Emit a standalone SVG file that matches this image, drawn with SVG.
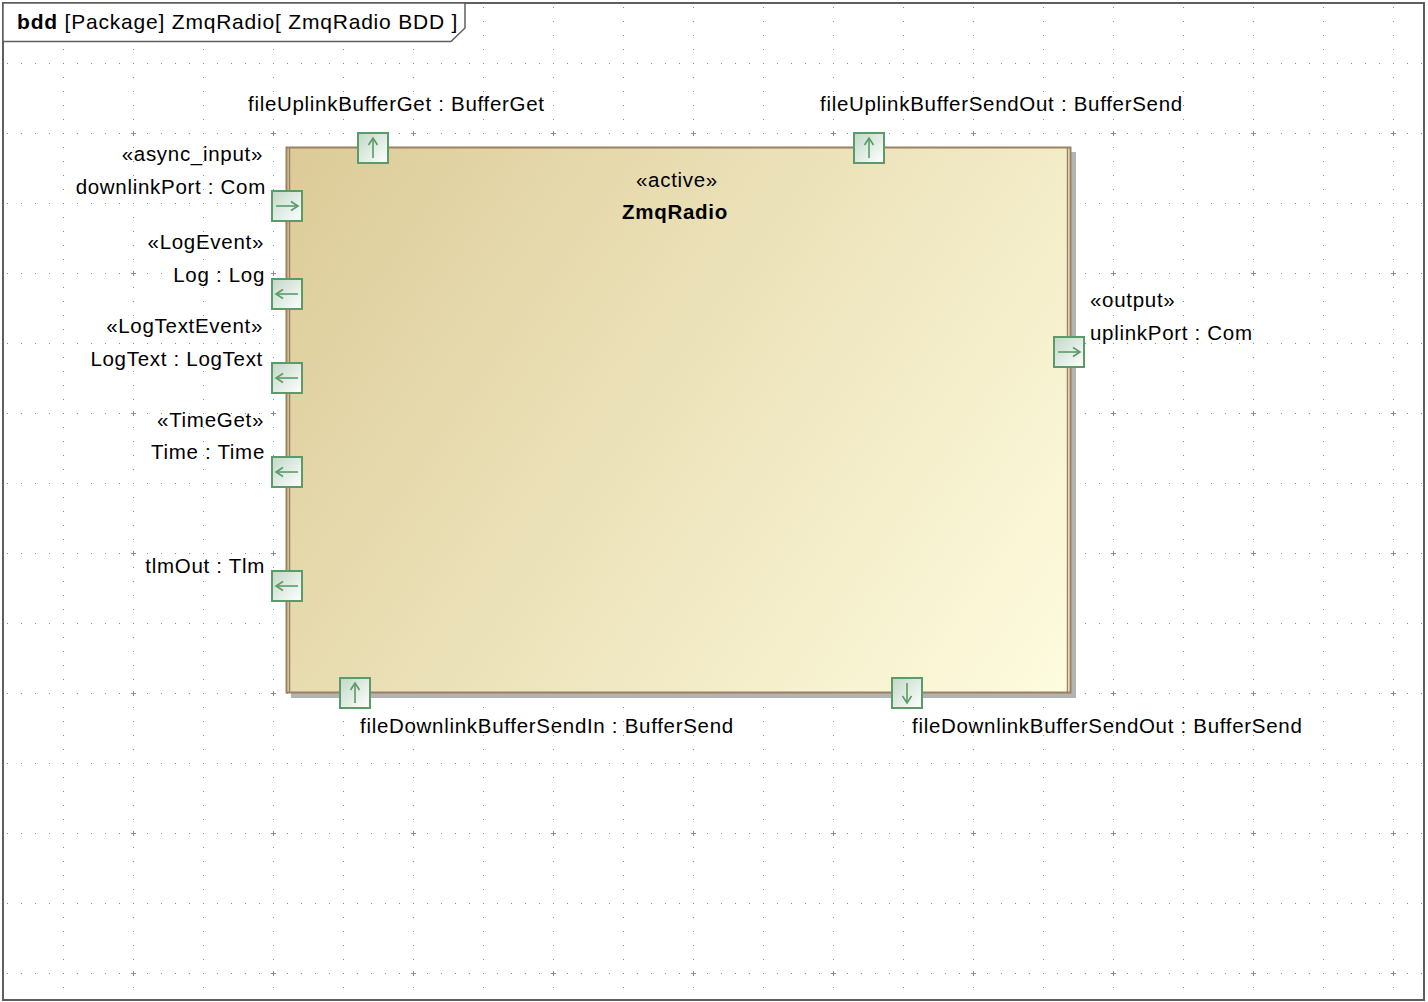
<svg xmlns="http://www.w3.org/2000/svg" width="1428" height="1002" viewBox="0 0 1428 1002">
<defs>
<pattern id="grid" patternUnits="userSpaceOnUse" x="63" y="63" width="70" height="70">
<rect x="0" y="0" width="1" height="1" fill="#8c8c8c"/>
<rect x="14" y="0" width="1" height="1" fill="#8c8c8c"/>
<rect x="28" y="0" width="1" height="1" fill="#8c8c8c"/>
<rect x="42" y="0" width="1" height="1" fill="#8c8c8c"/>
<rect x="56" y="0" width="1" height="1" fill="#8c8c8c"/>
<rect x="0" y="14" width="1" height="1" fill="#8c8c8c"/>
<rect x="0" y="28" width="1" height="1" fill="#8c8c8c"/>
<rect x="0" y="42" width="1" height="1" fill="#8c8c8c"/>
<rect x="0" y="56" width="1" height="1" fill="#8c8c8c"/>
</pattern>
<pattern id="plus" patternUnits="userSpaceOnUse" x="131" y="131" width="140" height="140">
<rect x="0" y="2" width="5" height="1" fill="#8c8c8c"/>
<rect x="2" y="0" width="1" height="5" fill="#8c8c8c"/>
</pattern>
<linearGradient id="blockFill" gradientUnits="userSpaceOnUse" x1="286" y1="147" x2="1070" y2="693">
<stop offset="0" stop-color="#dccb98"/>
<stop offset="1" stop-color="#fefcdf"/>
</linearGradient>
<linearGradient id="portFill" x1="0" y1="0" x2="1" y2="1">
<stop offset="0" stop-color="#c2d8c7"/>
<stop offset="1" stop-color="#ffffff"/>
</linearGradient>
<marker id="ah" markerWidth="12" markerHeight="12" refX="9" refY="6" orient="auto" markerUnits="userSpaceOnUse">
<path d="M2,1.5 L9,6 L2,10.5" fill="none" stroke="#5a9b68" stroke-width="1.6"/>
</marker>
</defs>
<style>
text{font-family:"Liberation Sans",Arial,sans-serif;font-size:20.5px;letter-spacing:0.7px;fill:#000}
.t{font-size:21px;letter-spacing:0.8px}
.r{text-anchor:end}
.m{text-anchor:middle}
.b{font-weight:bold}
.port rect{fill:url(#portFill);stroke:#5a9b68;stroke-width:2}
.port line{stroke:#5a9b68;stroke-width:1.6;marker-end:url(#ah)}
</style>
<rect x="0" y="0" width="1428" height="1002" fill="#ffffff"/>
<rect x="4" y="4" width="1419" height="995" fill="url(#grid)"/>
<rect x="4" y="4" width="1419" height="995" fill="url(#plus)"/>
<g id="frame">
<rect x="3" y="3" width="1421" height="997" fill="none" stroke="#5f5f5f" stroke-width="2"/>
<line x1="1424" y1="5" x2="1424" y2="1000" stroke="#5f5f5f" stroke-width="1"/>
<line x1="5" y1="1000" x2="1424" y2="1000" stroke="#5f5f5f" stroke-width="1"/>
<path d="M3,3 L465,3 L465,28 L451,41.5 L3,41.5 Z" fill="#ffffff" stroke="#5f5f5f" stroke-width="1.5"/>
<text class="t" x="17" y="29"><tspan class="b">bdd</tspan>  [Package] ZmqRadio[ ZmqRadio BDD ]</text>
</g>
<g id="ZmqRadio">
<rect x="291" y="152" width="785" height="546" fill="#b3b3b3"/>
<rect x="286.5" y="147.5" width="784" height="545" fill="url(#blockFill)" stroke="#9b8161" stroke-width="2"/>
<line x1="289.5" y1="148" x2="289.5" y2="692" stroke="#9b8161" stroke-width="1.5"/>
<line x1="1067.5" y1="148" x2="1067.5" y2="692" stroke="#9b8161" stroke-width="1.5"/>
<text class="m" x="677" y="187">«active»</text>
<text class="m b" x="675" y="219">ZmqRadio</text>
</g>
<g id="port-fileUplinkBufferGet" class="port">
<rect x="358" y="133" width="30" height="30"/>
<line x1="373" y1="158" x2="373" y2="138"/>
<text x="248" y="111">fileUplinkBufferGet : BufferGet</text>
</g>
<g id="port-fileUplinkBufferSendOut" class="port">
<rect x="854" y="133" width="30" height="30"/>
<line x1="869" y1="158" x2="869" y2="138"/>
<text x="820" y="111">fileUplinkBufferSendOut : BufferSend</text>
</g>
<g id="port-downlinkPort" class="port">
<rect x="272" y="191" width="30" height="30"/>
<line x1="276" y1="206" x2="298" y2="206"/>
<text class="r" x="263" y="161">«async_input»</text>
<text class="r" x="266" y="194">downlinkPort : Com</text>
</g>
<g id="port-Log" class="port">
<rect x="272" y="279" width="30" height="30"/>
<line x1="298" y1="294" x2="276" y2="294"/>
<text class="r" x="264" y="249">«LogEvent»</text>
<text class="r" x="265" y="282">Log : Log</text>
</g>
<g id="port-LogText" class="port">
<rect x="272" y="363" width="30" height="30"/>
<line x1="298" y1="378" x2="276" y2="378"/>
<text class="r" x="263" y="333">«LogTextEvent»</text>
<text class="r" x="263" y="366">LogText : LogText</text>
</g>
<g id="port-Time" class="port">
<rect x="272" y="457" width="30" height="30"/>
<line x1="298" y1="472" x2="276" y2="472"/>
<text class="r" x="264" y="427">«TimeGet»</text>
<text class="r" x="265" y="459">Time : Time</text>
</g>
<g id="port-tlmOut" class="port">
<rect x="272" y="571" width="30" height="30"/>
<line x1="298" y1="586" x2="276" y2="586"/>
<text class="r" x="265" y="573">tlmOut : Tlm</text>
</g>
<g id="port-uplinkPort" class="port">
<rect x="1054" y="337" width="30" height="30"/>
<line x1="1058" y1="352" x2="1080" y2="352"/>
<text x="1090" y="307">«output»</text>
<text x="1090" y="340">uplinkPort : Com</text>
</g>
<g id="port-fileDownlinkBufferSendIn" class="port">
<rect x="340" y="678" width="30" height="30"/>
<line x1="355" y1="703" x2="355" y2="683"/>
<text x="360" y="733">fileDownlinkBufferSendIn : BufferSend</text>
</g>
<g id="port-fileDownlinkBufferSendOut" class="port">
<rect x="892" y="678" width="30" height="30"/>
<line x1="907" y1="683" x2="907" y2="703"/>
<text x="912" y="733">fileDownlinkBufferSendOut : BufferSend</text>
</g>
<g id="connectors"></g>
</svg>
